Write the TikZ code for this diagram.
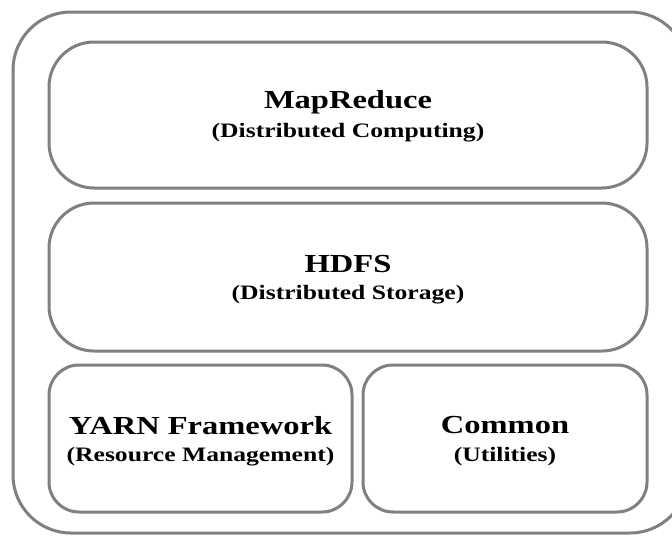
\documentclass[tikz,border=0pt]{standalone}
\usepackage{fontspec}
\setmainfont{Liberation Serif}[FakeStretch=1.25]
\begin{document}
\begin{tikzpicture}[x=1pt, y=-1pt, line join=round, line cap=round, font=\bfseries,
	layer/.style={draw=black!50, line width=3pt, inner sep=0pt, align=center},
	wide/.style={layer, rounded corners=45pt, minimum width=598pt},
	half/.style={layer, rounded corners=30pt, minimum height=147pt},
	title/.style={font=\fontsize{26}{30}\selectfont\bfseries},
	sub/.style={font=\fontsize{20.5}{24}\selectfont\bfseries},
	]
	\useasboundingbox (0,0) rectangle (672,536);
	\clip (0,0) rectangle (672,536);
	\draw[black!50, line width=3pt, rounded corners=58pt] (13,12) rectangle (688,533);
	\path
	(348,115) node[wide, minimum height=146pt] (mapreduce) {}
	(348,277) node[wide, minimum height=148pt] (hdfs) {}
	(200.5,438.5) node[half, minimum width=303pt] (yarn) {}
	(505,438.5) node[half, minimum width=284pt] (common) {}
	;
	\foreach \b/\t/\s in {mapreduce/MapReduce/Distributed Computing,
		hdfs/HDFS/Distributed Storage,
		yarn/YARN Framework/Resource Management,
		common/Common/Utilities}{
		\node[title, yshift=13pt] (\b-t) at (\b) {\t};
		\node[sub, yshift=-18pt] (\b-s) at (\b) {(\s)};
	}
\end{tikzpicture}
\end{document}
